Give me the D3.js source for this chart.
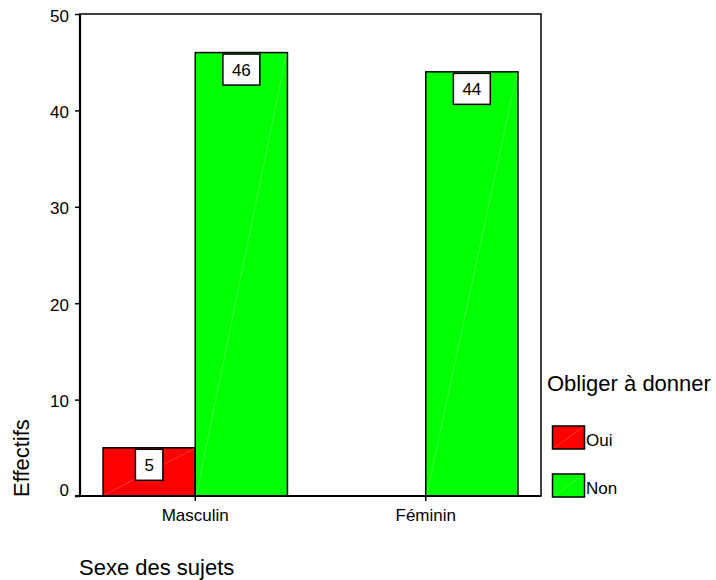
<!DOCTYPE html>
<html><head><meta charset="utf-8">
<script src="https://cdn.jsdelivr.net/npm/d3@7"></script>
<style>
html,body{margin:0;padding:0;background:#fff;}
svg{display:block;font-family:Arial,"Liberation Sans",Helvetica,sans-serif;}
</style></head>
<body>
<svg id="chart" width="716" height="580"></svg>
<script>
const categories = ["Masculin", "Féminin"];
const seriesNames = ["Oui", "Non"];
const ouiValues = [5, 0];
const nonValues = [46, 44];
const yTicks = [0, 10, 20, 30, 40, 50];
const colors = {"Oui": "#ff0000", "Non": "#00ff00"};
const paleColors = {"Oui": "#ff9090", "Non": "#90ff90"};

const svg = d3.select("#chart");
const L = 80, R = 541, T = 14, B = 496;

const x0 = d3.scaleBand().domain(categories).range([L, R]).paddingInner(0.2).paddingOuter(0.1);
const x1 = d3.scaleBand().domain(seriesNames).range([0, x0.bandwidth()]);
const y = d3.scaleLinear().domain([0, 50]).range([B, T]);

const data = [];
categories.forEach((c, i) => {
  data.push({cat: c, s: "Oui", v: ouiValues[i]});
  data.push({cat: c, s: "Non", v: nonValues[i]});
});

// frame
svg.append("rect").attr("x", L).attr("y", y(50)).attr("width", R - L).attr("height", B - y(50))
  .attr("fill", "none").attr("stroke", "#000").attr("stroke-width", 1.5);

// bars
const bars = data.filter(d => d.v > 0);
const g = svg.append("g");
bars.forEach(d => {
  const bx = x0(d.cat) + x1(d.s), bw = x1.bandwidth(), by = y(d.v), bh = y(0) - y(d.v);
  g.append("rect").attr("x", bx).attr("y", by).attr("width", bw).attr("height", bh)
    .attr("fill", colors[d.s]).attr("stroke", "#000").attr("stroke-width", 1.5);
  g.append("line").attr("x1", bx + 1).attr("y1", y(0) - 1).attr("x2", bx + bw - 1).attr("y2", by + 1)
    .attr("stroke", "#fff").attr("stroke-opacity", 0.45).attr("stroke-width", 0.5);
});

// value labels
bars.forEach(d => {
  const cx = x0(d.cat) + x1(d.s) + x1.bandwidth() / 2;
  const t = g.append("text").attr("x", cx).attr("y", y(d.v) + 23.5).attr("text-anchor", "middle")
    .attr("font-size", 17).attr("fill", "#000").text(d.v);
  const w = t.node().getComputedTextLength() + 18;
  const top = y(d.v) + 1.5;
  g.insert("rect", () => t.node()).attr("x", cx - w / 2).attr("y", top).attr("width", w).attr("height", 31)
    .attr("fill", "#fff").attr("stroke", "#000").attr("stroke-width", 1.5);
  g.insert("line", () => t.node()).attr("x1", cx - w / 2 + 1).attr("y1", top + 30).attr("x2", cx + w / 2 - 1).attr("y2", top + 1)
    .attr("stroke", paleColors[d.s]).attr("stroke-opacity", 0.6).attr("stroke-width", 0.5);
});

// y axis
const yAxis = svg.append("g").attr("transform", `translate(${L},0)`)
  .call(d3.axisLeft(y).tickValues(yTicks).tickSize(5).tickPadding(6).tickFormat(d3.format("d")));
yAxis.select(".domain").remove();
yAxis.selectAll(".tick line").attr("stroke", "#000").attr("stroke-width", 1.5);
yAxis.selectAll(".tick text").attr("font-size", 17).attr("font-family", "Arial, 'Liberation Sans', sans-serif")
  .attr("fill", "#000").attr("dy", d => d === 0 ? "-0.05em" : "0.42em");
svg.append("line").attr("x1", L).attr("x2", L).attr("y1", y(50)).attr("y2", B + 0.75)
  .attr("stroke", "#000").attr("stroke-width", 2.2);

// x axis
const xAxis = svg.append("g").attr("transform", `translate(0,${B})`)
  .call(d3.axisBottom(x0).tickSize(5).tickPadding(8));
xAxis.select(".domain").remove();
xAxis.selectAll(".tick line").attr("stroke", "#000").attr("stroke-width", 1.5);
xAxis.selectAll(".tick text").attr("font-size", 17).attr("font-family", "Arial, 'Liberation Sans', sans-serif")
  .attr("fill", "#000").attr("dy", "0.71em");
svg.append("line").attr("x1", 75).attr("x2", R).attr("y1", B).attr("y2", B)
  .attr("stroke", "#000").attr("stroke-width", 1.8);

// axis titles
svg.append("text").attr("transform", "translate(28.5,497) rotate(-90)").attr("font-size", 22)
  .attr("fill", "#000").text("Effectifs");
svg.append("text").attr("x", 79).attr("y", 575).attr("font-size", 22).attr("fill", "#000").text("Sexe des sujets");

// legend
const leg = svg.append("g");
leg.append("text").attr("x", 547).attr("y", 391).attr("font-size", 22).attr("fill", "#000").text("Obliger à donner");
seriesNames.forEach((s, i) => {
  const ly = 426 + i * 48;
  leg.append("rect").attr("x", 552.5).attr("y", ly).attr("width", 32).attr("height", 23)
    .attr("fill", colors[s]).attr("stroke", "#000").attr("stroke-width", 1.5);
  leg.append("line").attr("x1", 554).attr("y1", ly + 22).attr("x2", 583).attr("y2", ly + 1)
    .attr("stroke", "#fff").attr("stroke-opacity", 0.45).attr("stroke-width", 0.5);
  leg.append("text").attr("x", 586).attr("y", ly + 20).attr("font-size", 17).attr("fill", "#000").text(s);
});
</script>
</body></html>
